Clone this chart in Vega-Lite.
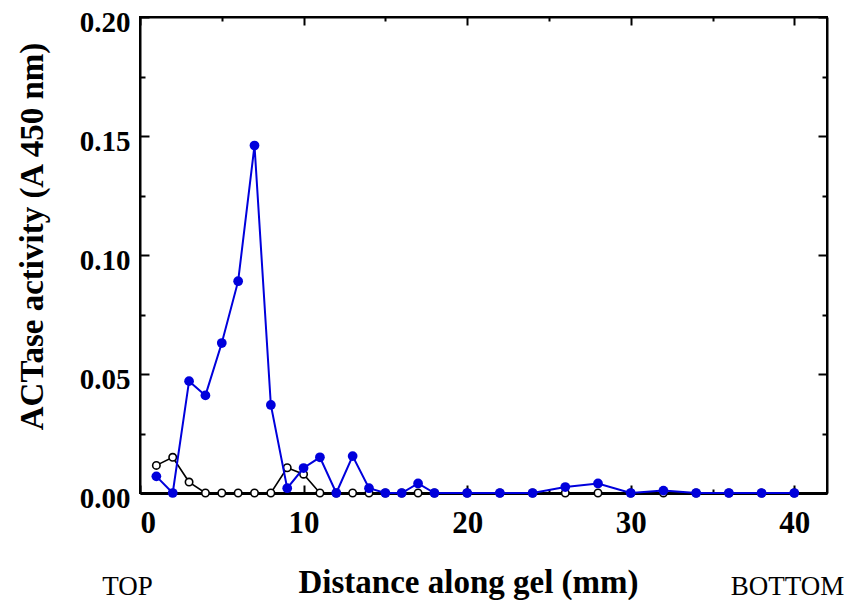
{
  "$schema": "https://vega.github.io/schema/vega-lite/v6.json",
  "width": 687,
  "height": 476,
  "autosize": {"type": "none"},
  "padding": {"left": 140, "top": 17, "right": 24, "bottom": 107},
  "background": "white",
  "config": {
    "view": {"stroke": "black", "strokeWidth": 2},
    "axis": {
      "labelFont": "Liberation Serif",
      "labelFontWeight": "bold",
      "labelFontSize": 31,
      "labelColor": "black",
      "titleFont": "Liberation Serif",
      "titleFontWeight": "bold",
      "titleFontSize": 33,
      "titleColor": "black",
      "domainColor": "black",
      "domainWidth": 2,
      "tickColor": "black",
      "tickWidth": 2,
      "grid": false
    }
  },
  "datasets": {
    "control": [
      {"d": 1, "a": 0.0116}, {"d": 2, "a": 0.015}, {"d": 3, "a": 0.0046}, {"d": 4, "a": 0}, {"d": 5, "a": 0},
      {"d": 6, "a": 0}, {"d": 7, "a": 0}, {"d": 8, "a": 0}, {"d": 9, "a": 0.0106}, {"d": 10, "a": 0.0079},
      {"d": 11, "a": 0}, {"d": 12, "a": 0}, {"d": 13, "a": 0}, {"d": 14, "a": 0}, {"d": 15, "a": 0},
      {"d": 16, "a": 0}, {"d": 17, "a": 0}, {"d": 18, "a": 0}, {"d": 20, "a": 0}, {"d": 22, "a": 0},
      {"d": 24, "a": 0}, {"d": 26, "a": 0}, {"d": 28, "a": 0}, {"d": 30, "a": 0}, {"d": 32, "a": 0},
      {"d": 34, "a": 0}, {"d": 36, "a": 0}, {"d": 38, "a": 0}, {"d": 40, "a": 0}
    ],
    "sample": [
      {"d": 1, "a": 0.007}, {"d": 2, "a": 0}, {"d": 3, "a": 0.047}, {"d": 4, "a": 0.041}, {"d": 5, "a": 0.063},
      {"d": 6, "a": 0.089}, {"d": 7, "a": 0.146}, {"d": 8, "a": 0.037}, {"d": 9, "a": 0.002}, {"d": 10, "a": 0.0105},
      {"d": 11, "a": 0.015}, {"d": 12, "a": 0}, {"d": 13, "a": 0.0155}, {"d": 14, "a": 0.002}, {"d": 15, "a": 0},
      {"d": 16, "a": 0}, {"d": 17, "a": 0.004}, {"d": 18, "a": 0}, {"d": 20, "a": 0}, {"d": 22, "a": 0},
      {"d": 24, "a": 0}, {"d": 26, "a": 0.0025}, {"d": 28, "a": 0.004}, {"d": 30, "a": 0}, {"d": 32, "a": 0.001},
      {"d": 34, "a": 0}, {"d": 36, "a": 0}, {"d": 38, "a": 0}, {"d": 40, "a": 0}
    ],
    "ends": [
      {"d": -0.76, "label": "TOP"},
      {"d": 39.58, "label": "BOTTOM"}
    ]
  },
  "layer": [
    {
      "data": {"name": "control"},
      "mark": {
        "type": "line",
        "color": "black",
        "strokeWidth": 1.6,
        "point": {"filled": true, "fill": "white", "stroke": "black", "strokeWidth": 1.6, "size": 55}
      },
      "encoding": {
        "x": {
          "field": "d", "type": "quantitative",
          "scale": {"domain": [0, 42], "nice": false, "zero": false},
          "axis": {
            "orient": "bottom",
            "title": "Distance along gel (mm)",
            "titleX": 328,
            "titleY": 89,
            "titleBaseline": "middle",
            "values": [0, 10, 20, 30, 40],
            "tickSize": -8,
            "labelPadding": 23,
            "domainWidth": 3
          }
        },
        "y": {
          "field": "a", "type": "quantitative",
          "scale": {"domain": [0, 0.2], "nice": false},
          "axis": {
            "orient": "left",
            "title": "ACTase activity (A 450 nm)",
            "titleX": -108,
            "titleY": 219,
            "titleBaseline": "middle",
            "values": [0, 0.05, 0.1, 0.15, 0.2],
            "format": ".2f",
            "labelFontSize": 29,
            "labelOffset": 5,
            "tickSize": -9,
            "labelPadding": 19
          }
        }
      }
    },
    {
      "data": {"name": "sample"},
      "mark": {
        "type": "line",
        "color": "#0000dc",
        "strokeWidth": 2,
        "point": {"filled": true, "color": "#0000dc", "size": 95}
      },
      "encoding": {
        "x": {
          "field": "d", "type": "quantitative",
          "scale": {"domain": [0, 42], "nice": false, "zero": false},
          "axis": {"orient": "top", "title": null, "values": [0, 10, 20, 30, 40], "labels": false, "tickSize": -8}
        },
        "y": {
          "field": "a", "type": "quantitative",
          "scale": {"domain": [0, 0.2], "nice": false},
          "axis": {"orient": "right", "title": null, "values": [0, 0.05, 0.1, 0.15, 0.2], "labels": false, "tickSize": -9}
        }
      }
    },
    {
      "data": {"name": "sample"},
      "mark": {"type": "point", "opacity": 0},
      "encoding": {
        "x": {
          "field": "d", "type": "quantitative",
          "scale": {"domain": [0, 42], "nice": false, "zero": false},
          "axis": {"orient": "bottom", "title": null, "values": [5, 15, 25, 35], "labels": false, "tickSize": -4, "domain": false}
        },
        "y": {
          "field": "a", "type": "quantitative",
          "scale": {"domain": [0, 0.2], "nice": false},
          "axis": {"orient": "left", "title": null, "values": [0.025, 0.075, 0.125, 0.175], "labels": false, "tickSize": -5, "domain": false}
        }
      }
    },
    {
      "data": {"name": "control"},
      "mark": {"type": "point", "opacity": 0},
      "encoding": {
        "x": {
          "field": "d", "type": "quantitative",
          "scale": {"domain": [0, 42], "nice": false, "zero": false},
          "axis": {"orient": "top", "title": null, "values": [5, 15, 25, 35], "labels": false, "tickSize": -4, "domain": false}
        },
        "y": {
          "field": "a", "type": "quantitative",
          "scale": {"domain": [0, 0.2], "nice": false},
          "axis": {"orient": "right", "title": null, "values": [0.025, 0.075, 0.125, 0.175], "labels": false, "tickSize": -5, "domain": false}
        }
      }
    },
    {
      "data": {"name": "ends"},
      "mark": {"type": "text", "font": "Liberation Serif", "fontSize": 27, "color": "black", "align": "center", "baseline": "middle"},
      "encoding": {
        "x": {"field": "d", "type": "quantitative", "scale": {"domain": [0, 42], "nice": false, "zero": false}, "axis": null},
        "y": {"value": 570},
        "text": {"field": "label"}
      }
    }
  ],
  "resolve": {"axis": {"x": "independent", "y": "independent"}}
}
